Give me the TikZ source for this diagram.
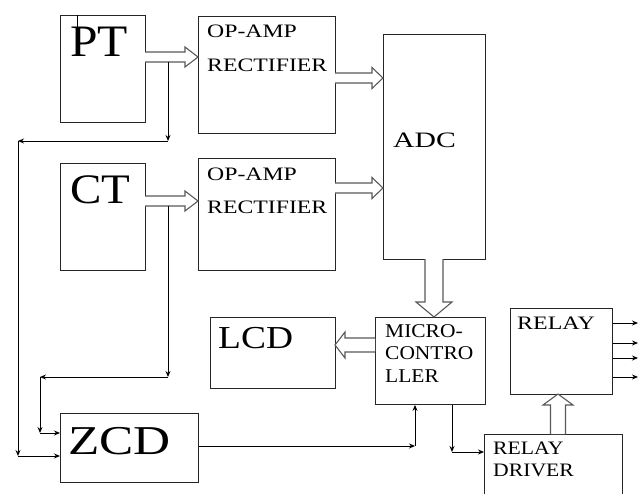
\documentclass[tikz,border=0pt]{standalone}
\usepackage{fontspec}
\setmainfont{Liberation Serif}
\usetikzlibrary{calc,arrows.meta}
\newcommand\hollowarrow[5]{%
  \coordinate (ha-b) at ($(#2)!#5!(#1)$);
  \draw[hollowline] ($(#1)!#3!90:(#2)$) -- ($(ha-b)!#3!90:(#2)$) -- ($(ha-b)!#4!90:(#2)$) -- (#2)
     -- ($(ha-b)!#4!-90:(#2)$) -- ($(ha-b)!#3!-90:(#2)$) -- ($(#1)!#3!-90:(#2)$);
}
\newcommand\txt[3]{\scalebox{#1}[1]{\fontsize{#2}{#2}\selectfont #3}}
\begin{document}
\begin{tikzpicture}[x=1pt,y=-1pt,
  box/.style={draw=black!85,line width=0.9pt,rectangle,inner sep=0pt,anchor=north west},
  lbl/.style={inner sep=0pt,anchor=base west},
  hollowline/.style={draw=black!65,line width=1.1pt,fill=white,line join=miter},
  thin/.style={draw=black,line width=0.9pt,-{Stealth[length=6pt,width=5pt]}}]
\useasboundingbox (0,0) rectangle (643,493);
\clip (0,0) rectangle (643,493);
% boxes
\node[box,minimum width=85pt,minimum height=107pt] (PT) at (60,15) {};
\node[box,minimum width=137pt,minimum height=117pt] (OA1) at (198,16) {};
\node[box,minimum width=85pt,minimum height=107pt] (CT) at (60,163) {};
\node[box,minimum width=137pt,minimum height=112pt] (OA2) at (198,158) {};
\node[box,minimum width=102pt,minimum height=225pt] (ADC) at (383,34) {};
\node[box,minimum width=125pt,minimum height=71pt] (LCD) at (210,317) {};
\node[box,minimum width=110pt,minimum height=87pt] (MC) at (375,317) {};
\node[box,minimum width=138pt,minimum height=69pt] (ZCD) at (60,413) {};
\node[box,minimum width=102pt,minimum height=86pt] (RELAY) at (510,308) {};
\node[box,minimum width=138pt,minimum height=90pt] (RD) at (484,434) {};
% tick on PT
\draw[line width=0.9pt] (PT.north west) ++(17,0) -- ++(0,12);
% labels
\node[lbl] (tPT) at (70,56) {\txt{1.1}{45}{PT}};
\node[lbl] (tCT) at (70,203) {\txt{1.12}{42}{CT}};
\node[lbl] (tZCD) at (68,454) {\txt{1.25}{41}{ZCD}};
\node[lbl] (tOA1a) at (207,37) {\txt{1.25}{19}{OP-AMP}};
\node[lbl] (tOA1b) at (207,71) {\txt{1.25}{19}{RECTIFIER}};
\node[lbl] (tOA2a) at (207,180) {\txt{1.25}{19}{OP-AMP}};
\node[lbl] (tOA2b) at (207,213) {\txt{1.25}{19}{RECTIFIER}};
\node[lbl] (tADC) at (393,147) {\txt{1.35}{22}{ADC}};
\node[lbl] (tLCD) at (218,348) {\txt{1.17}{32}{LCD}};
\node[lbl] (tMC1) at (385,337) {\txt{1.1}{19.5}{MICRO-}};
\node[lbl] (tMC2) at (385,359) {\txt{1.1}{19.5}{CONTRO}};
\node[lbl] (tMC3) at (385,382) {\txt{1.1}{19.5}{LLER}};
\node[lbl] (tREL) at (517,329) {\txt{1.26}{19}{RELAY}};
\node[lbl] (tRD1) at (493,454) {\txt{1.14}{19}{RELAY}};
\node[lbl] (tRD2) at (493,476) {\txt{1.14}{19}{DRIVER}};
% hollow arrows
\coordinate (a1s) at (145,57); \coordinate (a1e) at (198,57);
\hollowarrow{a1s}{a1e}{5pt}{10pt}{13pt}
\coordinate (a2s) at (145,201); \coordinate (a2e) at (198,201);
\hollowarrow{a2s}{a2e}{5pt}{10pt}{13pt}
\coordinate (a3s) at (335,78); \coordinate (a3e) at (383,78);
\hollowarrow{a3s}{a3e}{5pt}{10.5pt}{11pt}
\coordinate (a4s) at (335,188); \coordinate (a4e) at (383,188);
\hollowarrow{a4s}{a4e}{5pt}{10.5pt}{11pt}
\coordinate (a5s) at (434,259); \coordinate (a5e) at (434,317);
\hollowarrow{a5s}{a5e}{9pt}{18pt}{15pt}
\coordinate (a6s) at (375,345); \coordinate (a6e) at (335,345);
\hollowarrow{a6s}{a6e}{7pt}{13pt}{10pt}
\coordinate (a7s) at (558,434); \coordinate (a7e) at (558,394);
\hollowarrow{a7s}{a7e}{7.5pt}{15pt}{11pt}
% PT branch to ZCD
\coordinate (p1) at (168,62);
\coordinate (p2) at (168,141);
\coordinate (p3) at (18,141);
\coordinate (p4) at (18,456);
\draw[thin] (p1) -- (p2);
\draw[thin] (p2) -- (p3);
\draw[thin] (p3) -- (p4);
\draw[thin] (p4) -- (p4 -| ZCD.west);
% CT branch to ZCD
\coordinate (c1) at (168,206);
\coordinate (c2) at (168,377);
\coordinate (c3) at (40,377);
\coordinate (c4) at (40,433);
\draw[thin] (c1) -- (c2);
\draw[thin] (c2) -- (c3);
\draw[thin] (c3) -- (c4);
\draw[thin] (c4) -- (c4 -| ZCD.west);
% ZCD to MC
\coordinate (z1) at (415,446);
\draw[thin] (z1 -| ZCD.east) -- (z1);
\draw[thin] (z1) -- (z1 |- MC.south);
% MC to relay driver
\coordinate (m1) at (452,452);
\draw[thin] (m1 |- MC.south) -- (m1);
\draw[thin] (m1) -- (m1 -| RD.west);
% relay outputs
\foreach \yy [count=\i] in {323,343,358,377}{
  \coordinate (r\i) at (638,\yy);
  \draw[thin] (r\i -| RELAY.east) -- (r\i);
}
\end{tikzpicture}
\end{document}
